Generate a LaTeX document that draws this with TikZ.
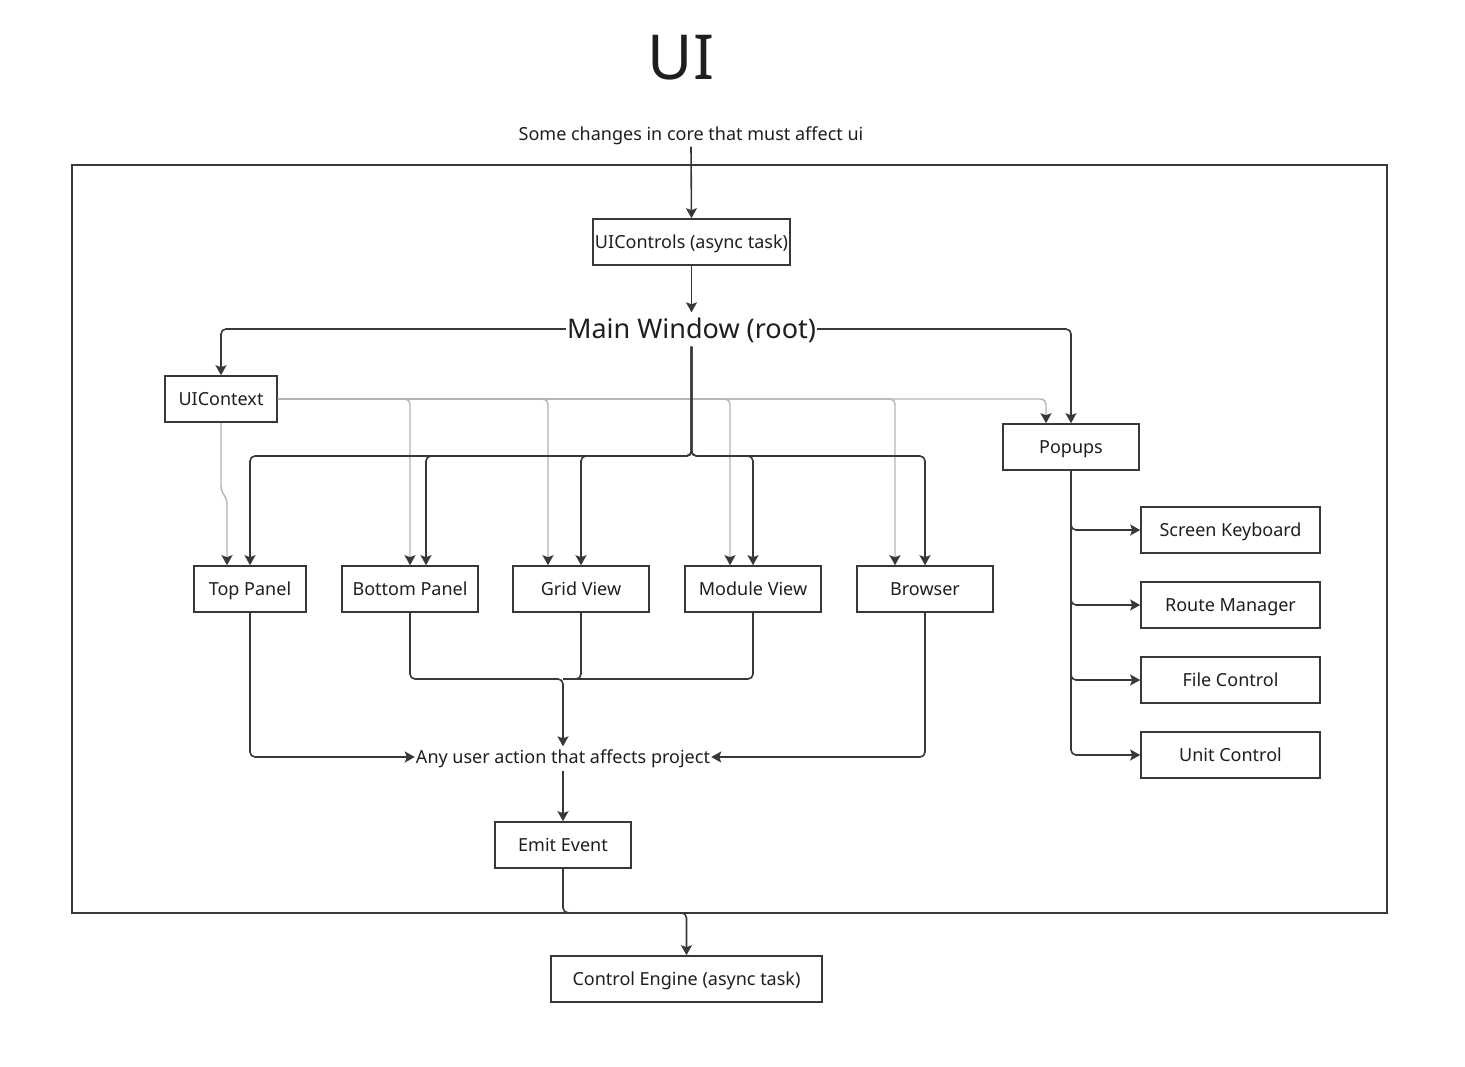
\documentclass[tikz,border=0pt]{standalone}
\usepackage{fontspec}
\setmainfont{Noto Sans}
\usetikzlibrary{arrows.meta,calc}
\definecolor{ln}{HTML}{383838}
\definecolor{lg}{HTML}{B4B4B4}
\definecolor{tx}{HTML}{1E1E1E}
\begin{document}
\begin{tikzpicture}[x=1pt,y=-1pt,
  box/.style={draw=ln,line width=1.6pt,inner sep=0pt,minimum height=46pt,text=tx,font=\fontsize{18}{22}\selectfont,text height=12.9pt,text depth=0pt},
  lbl/.style={inner sep=1pt,text=tx,font=\fontsize{18}{22}\selectfont,text height=12.9pt,text depth=0pt},
  conn/.style={draw=ln,line width=1.6pt,rounded corners=5pt,-{Stealth[length=10pt,width=11pt,inset=2pt]}},
  plain/.style={draw=ln,line width=1.6pt,rounded corners=5pt},
  gconn/.style={draw=lg,line width=1.4pt,rounded corners=5pt,-{Stealth[length=10pt,width=11pt,inset=2pt,color=ln]}}]
\useasboundingbox (0,0) rectangle (1465,1066);
% frame
\draw[ln,line width=1.6pt] (72,165) rectangle (1387,913);
% title
\node[text=tx,font=\fontsize{62}{70}\selectfont] (title) at (681,58) {UI};
\node[lbl] (core) at (691,134) {Some changes in core that must affect ui};
\node[box,minimum width=197pt] (uictl) at (691.5,242) {UIControls (async task)};
\node[inner sep=1pt,text=tx,font=\fontsize{27}{31}\selectfont,text height=19pt,text depth=0pt] (main) at (691.5,329) {Main Window (root)};
\node[box,minimum width=112pt] (uic) at (221,399) {UIContext};
\node[box,minimum width=136pt] (pop) at (1071,447) {Popups};
\node[box,minimum width=112pt] (top) at (250,589) {Top Panel};
\node[box,minimum width=136pt] (bot) at (410,589) {Bottom Panel};
\node[box,minimum width=136pt] (grid) at (581,589) {Grid View};
\node[box,minimum width=136pt] (mod) at (753,589) {Module View};
\node[box,minimum width=136pt] (brw) at (925,589) {Browser};
\node[box,minimum width=179pt] (sk) at (1230.5,530) {Screen Keyboard};
\node[box,minimum width=179pt] (rm) at (1230.5,605) {Route Manager};
\node[box,minimum width=179pt] (fc) at (1230.5,680) {File Control};
\node[box,minimum width=179pt] (uc) at (1230.5,755) {Unit Control};
\node[lbl] (act) at (563,757) {Any user action that affects project};
\node[box,minimum width=136pt] (emit) at (563,845) {Emit Event};
\node[box,minimum width=271pt] (ce) at (686.5,979) {Control Engine (async task)};
\coordinate (bus) at (691.5,456);
\coordinate (merge) at (563,679);
% top chain
\draw[conn] ([yshift=-5pt]core.south) -- (uictl.north);
\draw[conn] (uictl.south) -- ([yshift=6pt]main.north);
\draw[conn] (main.west) -| (uic.north);
\draw[conn] (main.east) -| (pop.north);
% gray context lines
\draw[gconn] (uic.south) -- ++(0,68) -- ++(6,8) -- ([xshift=-23pt]top.north);
\draw[gconn] (uic.east) -| (bot.north);
\draw[gconn] (uic.east) -| ([xshift=-33pt]grid.north);
\draw[gconn] (uic.east) -| ([xshift=-23pt]mod.north);
\draw[gconn] (uic.east) -| ([xshift=-30pt]brw.north);
\draw[gconn] (uic.east) -| ([xshift=-25pt]pop.north);
% main bus
\draw[conn] ([yshift=-7pt]main.south) -- (bus) -| (top.north);
\draw[conn] ([yshift=-7pt]main.south) -- (bus) -| ([xshift=16pt]bot.north);
\draw[conn] ([yshift=-7pt]main.south) -- (bus) -| (grid.north);
\draw[conn] ([yshift=-7pt]main.south) -- (bus) -| (mod.north);
\draw[conn] ([yshift=-7pt]main.south) -- (bus) -| (brw.north);
% panels to action
\draw[conn] (top.south) |- (act.west);
\draw[conn] (brw.south) |- (act.east);
\draw[conn] (bot.south) |- (merge) -- ([yshift=3pt]act.north);
\draw[plain] (grid.south) |- (merge);
\draw[plain] (mod.south) |- (merge);
\draw[conn] ([yshift=-6pt]act.south) -- (emit.north);
\draw[conn] (emit.south) -- ++(0,44) -| (ce.north);
% popups
\draw[conn] (pop.south) |- (sk.west);
\draw[conn] (pop.south) |- (rm.west);
\draw[conn] (pop.south) |- (fc.west);
\draw[conn] (pop.south) |- (uc.west);
\end{tikzpicture}
\end{document}
